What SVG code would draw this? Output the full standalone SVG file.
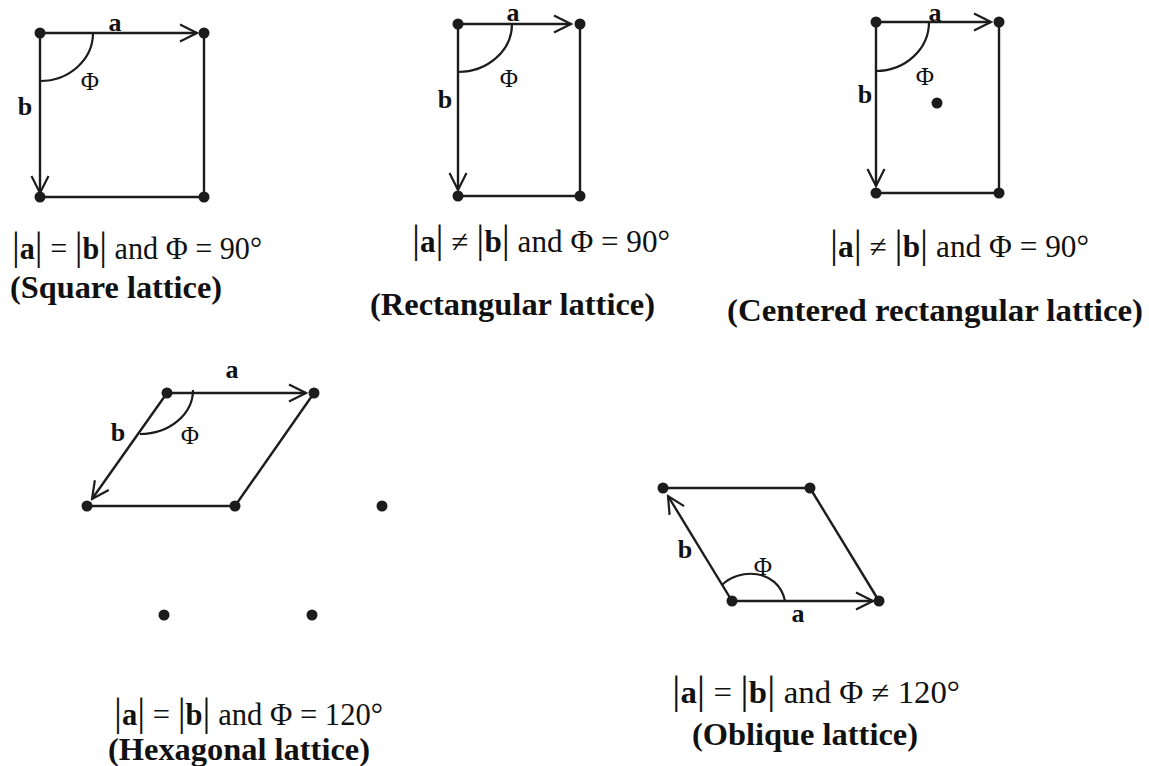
<svg xmlns="http://www.w3.org/2000/svg" width="1149" height="766" viewBox="0 0 1149 766">
<defs>
<style>
.ln{stroke:#1c1c1c;stroke-width:2.4;fill:none}
.arc{stroke:#1c1c1c;stroke-width:2.2;fill:none}
.dot{fill:#1c1c1c}
.vl{font-family:"Liberation Serif",serif;font-weight:bold;font-size:26px;fill:#111;text-anchor:middle}
.phi{font-family:"Liberation Serif",serif;font-size:25px;fill:#111;text-anchor:middle}
.eq{font-family:"Liberation Serif",serif;font-size:31px;fill:#111}
.eq .b{font-weight:bold}
.eq .bar{font-size:40px}
.lab{font-family:"Liberation Serif",serif;font-weight:bold;font-size:31px;fill:#111}
</style>
<marker id="ah" viewBox="-20 -10 22 20" refX="0" refY="0" markerWidth="22" markerHeight="20" markerUnits="userSpaceOnUse" orient="auto">
<path d="M-17,-8.5 L0,0 L-17,8.5" fill="none" stroke="#1c1c1c" stroke-width="2.2"/>
</marker>
</defs>
<rect width="1149" height="766" fill="#fff"/>

<g id="connectors">
<line class="ln" x1="40" y1="33" x2="197" y2="33" marker-end="url(#ah)"/>
<line class="ln" x1="40" y1="33" x2="40" y2="193" marker-end="url(#ah)"/>
<line class="ln" x1="204" y1="33" x2="204" y2="197"/>
<line class="ln" x1="40" y1="197" x2="204" y2="197"/>
<line class="ln" x1="458" y1="24" x2="571" y2="24" marker-end="url(#ah)"/>
<line class="ln" x1="458" y1="24" x2="458" y2="190" marker-end="url(#ah)"/>
<line class="ln" x1="580" y1="24" x2="580" y2="196"/>
<line class="ln" x1="458" y1="196" x2="580" y2="196"/>
<line class="ln" x1="876" y1="22" x2="991" y2="22" marker-end="url(#ah)"/>
<line class="ln" x1="876" y1="22" x2="876" y2="186" marker-end="url(#ah)"/>
<line class="ln" x1="999" y1="22" x2="999" y2="193"/>
<line class="ln" x1="876" y1="193" x2="999" y2="193"/>
<line class="ln" x1="167" y1="393" x2="306" y2="393" marker-end="url(#ah)"/>
<line class="ln" x1="167" y1="393" x2="92" y2="499" marker-end="url(#ah)"/>
<line class="ln" x1="314" y1="393" x2="235" y2="506"/>
<line class="ln" x1="87" y1="506" x2="235" y2="506"/>
<line class="ln" x1="732" y1="601" x2="668" y2="496" marker-end="url(#ah)"/>
<line class="ln" x1="732" y1="601" x2="873" y2="601" marker-end="url(#ah)"/>
<line class="ln" x1="663" y1="488" x2="810" y2="488"/>
<line class="ln" x1="810" y1="488" x2="879" y2="601"/>
</g>

<g id="square">
<circle class="dot" cx="40" cy="33" r="5.5"/><circle class="dot" cx="204" cy="33" r="5.5"/>
<circle class="dot" cx="40" cy="197" r="5.5"/><circle class="dot" cx="204" cy="197" r="5.5"/>
<path class="arc" d="M93,33 A53,48 0 0 1 40,81"/>
<text class="vl" x="115" y="31">a</text>
<text class="vl" x="25" y="115">b</text>
<text class="phi" x="90" y="90">Φ</text>
<text class="eq" x="12" y="259" textLength="250" lengthAdjust="spacingAndGlyphs"><tspan class="bar">|</tspan><tspan class="b">a</tspan><tspan class="bar">|</tspan> = <tspan class="bar">|</tspan><tspan class="b">b</tspan><tspan class="bar">|</tspan> and Φ = 90°</text>
<text class="lab" x="10" y="298" textLength="212" lengthAdjust="spacingAndGlyphs">(Square lattice)</text>
</g>

<g id="rectangular">
<circle class="dot" cx="458" cy="24" r="5.5"/><circle class="dot" cx="580" cy="24" r="5.5"/>
<circle class="dot" cx="458" cy="196" r="5.5"/><circle class="dot" cx="580" cy="196" r="5.5"/>
<path class="arc" d="M512,24 A54,48 0 0 1 458,72"/>
<text class="vl" x="513" y="21">a</text>
<text class="vl" x="445" y="108">b</text>
<text class="phi" x="509" y="87">Φ</text>
<text class="eq" x="412" y="252" textLength="258" lengthAdjust="spacingAndGlyphs"><tspan class="bar">|</tspan><tspan class="b">a</tspan><tspan class="bar">|</tspan> ≠ <tspan class="bar">|</tspan><tspan class="b">b</tspan><tspan class="bar">|</tspan> and Φ = 90°</text>
<text class="lab" x="370" y="315" textLength="285" lengthAdjust="spacingAndGlyphs">(Rectangular lattice)</text>
</g>

<g id="centered-rectangular">
<circle class="dot" cx="876" cy="22" r="5.5"/><circle class="dot" cx="999" cy="22" r="5.5"/>
<circle class="dot" cx="876" cy="193" r="5.5"/><circle class="dot" cx="999" cy="193" r="5.5"/>
<circle class="dot" cx="937" cy="103" r="5.5"/>
<path class="arc" d="M929,22 A53,49 0 0 1 876,71"/>
<text class="vl" x="935" y="21">a</text>
<text class="vl" x="865" y="103">b</text>
<text class="phi" x="925" y="85">Φ</text>
<text class="eq" x="830" y="257" textLength="259" lengthAdjust="spacingAndGlyphs"><tspan class="bar">|</tspan><tspan class="b">a</tspan><tspan class="bar">|</tspan> ≠ <tspan class="bar">|</tspan><tspan class="b">b</tspan><tspan class="bar">|</tspan> and Φ = 90°</text>
<text class="lab" x="727" y="321" textLength="416" lengthAdjust="spacingAndGlyphs">(Centered rectangular lattice)</text>
</g>

<g id="hexagonal">
<circle class="dot" cx="167" cy="393" r="5.5"/><circle class="dot" cx="314" cy="393" r="5.5"/>
<circle class="dot" cx="87" cy="506" r="5.5"/><circle class="dot" cx="235" cy="506" r="5.5"/>
<circle class="dot" cx="382" cy="506" r="5.5"/>
<circle class="dot" cx="164" cy="615" r="5.5"/><circle class="dot" cx="312" cy="615" r="5.5"/>
<path class="arc" d="M193,390 A53,44 0 0 1 140,434"/>
<text class="vl" x="232" y="378">a</text>
<text class="vl" x="118" y="441">b</text>
<text class="phi" x="190" y="444">Φ</text>
<text class="eq" x="114" y="725" textLength="269" lengthAdjust="spacingAndGlyphs"><tspan class="bar">|</tspan><tspan class="b">a</tspan><tspan class="bar">|</tspan> = <tspan class="bar">|</tspan><tspan class="b">b</tspan><tspan class="bar">|</tspan> and Φ = 120°</text>
<text class="lab" x="108" y="760" textLength="262" lengthAdjust="spacingAndGlyphs">(Hexagonal lattice)</text>
</g>

<g id="oblique">
<circle class="dot" cx="663" cy="488" r="5.5"/><circle class="dot" cx="810" cy="488" r="5.5"/>
<circle class="dot" cx="732" cy="601" r="5.5"/><circle class="dot" cx="879" cy="601" r="5.5"/>
<path class="arc" d="M722,585 C738,568 778,568 785,601"/>
<text class="vl" x="685" y="558">b</text>
<text class="phi" x="763" y="575">Φ</text>
<text class="vl" x="798" y="622">a</text>
<text class="eq" x="672" y="703" textLength="288" lengthAdjust="spacingAndGlyphs"><tspan class="bar">|</tspan><tspan class="b">a</tspan><tspan class="bar">|</tspan> = <tspan class="bar">|</tspan><tspan class="b">b</tspan><tspan class="bar">|</tspan>  and Φ ≠ 120°</text>
<text class="lab" x="692" y="745" textLength="226" lengthAdjust="spacingAndGlyphs">(Oblique lattice)</text>
</g>
</svg>
